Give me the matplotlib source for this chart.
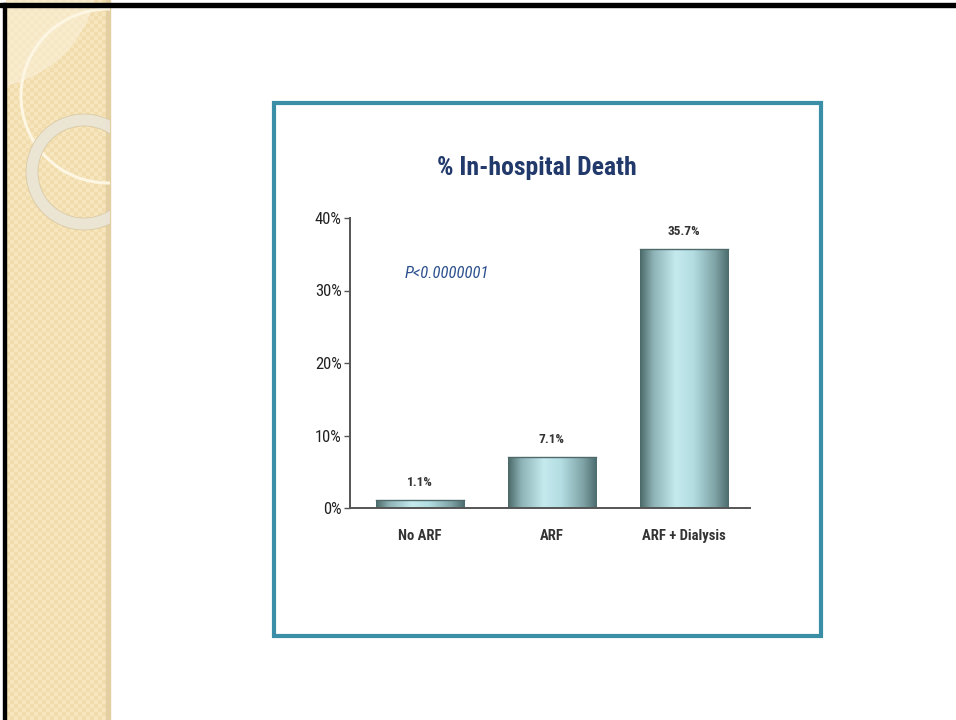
import numpy as np
import matplotlib.pyplot as plt
from matplotlib import font_manager
from matplotlib.colors import LinearSegmentedColormap
from matplotlib.patches import Rectangle, Circle, Wedge

categories = ["No ARF", "ARF", "ARF + Dialysis"]
death_pct = [1.1, 7.1, 35.7]
value_labels = ["1.1%", "7.1%", "35.7%"]
y_ticks = [0, 10, 20, 30, 40]
y_tick_labels = ["0%", "10%", "20%", "30%", "40%"]

# narrow sans face, first one installed
names = {f.name for f in font_manager.fontManager.ttflist}
narrow = next((n for n in ("Liberation Sans Narrow", "Roboto Condensed", "Archivo Narrow",
                           "PT Sans Narrow", "Barlow Condensed") if n in names), "Liberation Sans")

fig = plt.figure(figsize=(9.56, 7.2), dpi=100)

# slide background in pixel coordinates
bg = fig.add_axes([0, 0, 1, 1])
bg.set_xlim(0, 956)
bg.set_ylim(720, 0)
bg.axis("off")

# beige side strip with a fine checker texture
yy, xx = np.mgrid[0:720:4, 6:110:4]
checker = ((xx // 4 + yy // 4) % 2).astype(float)
strip_cmap = LinearSegmentedColormap.from_list("strip", ["#f7e6bd", "#f1dcae"])
bg.imshow(checker, cmap=strip_cmap, extent=(6, 110, 720, 0), aspect="auto",
          interpolation="nearest", zorder=1)
bg.add_patch(Rectangle((106, 0), 4, 720, color="#e3cfa2", zorder=2))

# decorative circles on the strip
clip = Rectangle((6, 0), 104, 720, transform=bg.transData)
lens = Circle((-20, -30), 118, color="#fbf1dc", alpha=0.55, zorder=2)
big = Circle((108, 96), 87, fill=False, ec="#fdf6e2", lw=2.2, zorder=3)
ring = Wedge((84, 172), 58, 0, 360, width=12, color="#ebe5d6", ec="#d9c9a3", lw=0.6,
             alpha=0.95, zorder=3)
for p in (lens, big, ring):
    bg.add_patch(p)
    p.set_clip_path(clip)

# slide frame lines
bg.add_patch(Rectangle((0, 3), 956, 3.5, color="black", zorder=5))
bg.add_patch(Rectangle((3.5, 3), 2.5, 717, color="black", zorder=5))

# teal picture frame
bg.add_patch(Rectangle((274.5, 102.5), 547, 533, fill=False, ec="#3a8fa6", lw=3, zorder=4))

fig.text(537 / 956, 1 - 168 / 720, "% In-hospital Death", ha="center", va="center",
         fontsize=18.5, fontweight="bold", color="#22396b", family=narrow)

# chart
ax = fig.add_axes([350 / 956, 1 - 508 / 720, 400 / 956, 290 / 720])
ax.patch.set_alpha(0)
x = np.arange(len(categories))
bars = ax.bar(x, death_pct, width=0.67, color="none", zorder=3)
ax.set_xlim(-0.53, 2.5)
ax.set_ylim(0, 40)

bar_cmap = LinearSegmentedColormap.from_list(
    "bar", [(0, "#4b6868"), (0.15, "#8db3b6"), (0.4, "#c5eaee"), (0.6, "#b3dde2"),
            (0.85, "#7ea2a5"), (1, "#4c6c6d")])
grad = np.linspace(0, 1, 256).reshape(1, -1)
for b in bars:
    x0, w, h = b.get_x(), b.get_width(), b.get_height()
    im = ax.imshow(grad, cmap=bar_cmap, extent=(x0, x0 + w, 0, h), aspect="auto", zorder=2)
    im.set_clip_path(b)
    ax.plot([x0, x0 + w], [h, h], color="#4e6a6a", lw=1, zorder=3)

for xi, v, lab in zip(x, death_pct, value_labels):
    ax.text(xi, v + 1.5, lab, ha="center", va="bottom", fontsize=9.5,
            fontweight="bold", color="#333333", family=narrow)

ax.text(0.2, 32.4, "P<0.0000001", ha="center", va="center", fontsize=12,
        style="italic", color="#2d4f8e", family=narrow)

for s in ("top", "right"):
    ax.spines[s].set_visible(False)
for s in ("left", "bottom"):
    ax.spines[s].set_color("#555555")
    ax.spines[s].set_linewidth(1.4)
ax.set_yticks(y_ticks)
ax.set_yticklabels(y_tick_labels, fontsize=12, color="#222222", family=narrow)
ax.set_xticks(x)
ax.set_xticklabels(categories, fontsize=10.5, fontweight="bold", color="#333333", family=narrow)
ax.tick_params(axis="y", length=4, width=1, color="#555555", pad=2)
ax.tick_params(axis="x", length=0, pad=15)

fig.savefig("out.png", dpi=100)
